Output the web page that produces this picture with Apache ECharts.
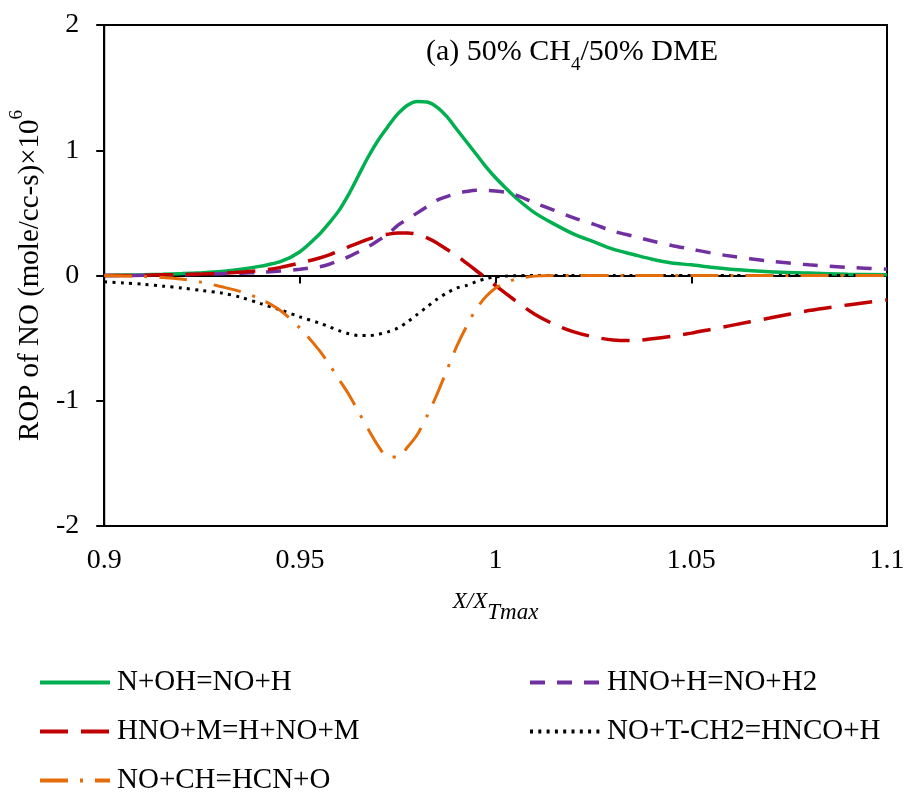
<!DOCTYPE html>
<html>
<head>
<meta charset="utf-8">
<script src="https://cdn.jsdelivr.net/npm/echarts@6/dist/echarts.min.js"></script>
<style>html,body{margin:0;padding:0;background:#fff;}#c{width:908px;height:798px;}</style>
</head>
<body>
<div id="c"></div>
<script>
// X/XTmax sample positions
var xs = [0.9, 0.905, 0.91, 0.915, 0.92, 0.925, 0.93, 0.935, 0.94, 0.945, 0.95, 0.955,
  0.9575, 0.96, 0.9625, 0.965, 0.9675, 0.97, 0.9725, 0.975, 0.9775, 0.98, 0.9825, 0.985, 0.9875, 0.99, 0.9925, 0.995, 0.9975, 1.0, 1.0025, 1.005,
  1.01, 1.015, 1.02, 1.025, 1.03, 1.035, 1.04, 1.045, 1.05, 1.055, 1.06,
  1.07, 1.08, 1.09, 1.1];
var names = ['N+OH=NO+H', 'HNO+H=NO+H2', 'HNO+M=H+NO+M', 'NO+T-CH2=HNCO+H', 'NO+CH=HCN+O'];
var nOH = [0, 0.003, 0.006, 0.01, 0.015, 0.022, 0.032, 0.05, 0.075, 0.11, 0.19, 0.33,
  0.42, 0.52, 0.65, 0.80, 0.95, 1.08, 1.19, 1.29, 1.36, 1.39, 1.385, 1.345, 1.27, 1.17, 1.07, 0.97, 0.87, 0.78, 0.70, 0.625,
  0.50, 0.41, 0.33, 0.27, 0.21, 0.17, 0.13, 0.10, 0.085, 0.065, 0.05,
  0.03, 0.02, 0.01, 0.005];
var hnoH = [0, 0, 0.002, 0.004, 0.006, 0.01, 0.014, 0.018, 0.025, 0.035, 0.05, 0.07,
  0.09, 0.12, 0.15, 0.19, 0.23, 0.28, 0.33, 0.40, 0.45, 0.50, 0.55, 0.60, 0.63, 0.655, 0.67, 0.68, 0.68, 0.675, 0.665, 0.645,
  0.58, 0.52, 0.46, 0.41, 0.355, 0.315, 0.275, 0.24, 0.21, 0.18, 0.155,
  0.115, 0.085, 0.065, 0.05];
var hnoM = [0, 0, 0.002, 0.005, 0.008, 0.012, 0.018, 0.028, 0.04, 0.065, 0.10, 0.14,
  0.165, 0.195, 0.23, 0.26, 0.29, 0.315, 0.33, 0.34, 0.34, 0.33, 0.30, 0.26, 0.21, 0.16, 0.10, 0.04, -0.02, -0.08, -0.14, -0.20,
  -0.31, -0.39, -0.45, -0.49, -0.515, -0.52, -0.505, -0.485, -0.46, -0.43, -0.40,
  -0.34, -0.28, -0.235, -0.195];
var noCH2 = [-0.05, -0.06, -0.07, -0.085, -0.10, -0.12, -0.14, -0.175, -0.225, -0.275, -0.33, -0.38,
  -0.41, -0.44, -0.465, -0.48, -0.48, -0.47, -0.45, -0.42, -0.37, -0.31, -0.25, -0.19, -0.14, -0.10, -0.08, -0.05, -0.025, -0.01, -0.005, -0.002,
  0, 0, 0, 0, 0, 0, 0, 0, 0, 0, 0,
  0, 0, 0, 0];
var noCH = [0, -0.003, -0.008, -0.015, -0.03, -0.055, -0.09, -0.13, -0.19, -0.28, -0.42, -0.60,
  -0.71, -0.83, -0.95, -1.09, -1.23, -1.36, -1.45, -1.45, -1.37, -1.27, -1.12, -0.95, -0.76, -0.57, -0.41, -0.27, -0.17, -0.10, -0.06, -0.03,
  -0.005, 0, 0, 0, 0, 0, 0, 0, 0, 0, 0,
  0, 0, 0, 0];
var xTicks = [0.9, 1.1, 0.05];
var yTicks = [-2, 2, 1];

var FONT = '"Liberation Serif", "Times New Roman", serif';
function pairs(v) { return xs.map(function (x, i) { return [x, v[i]]; }); }
function mk(name, vals, color, type, width) {
  return {
    name: name, type: 'line', data: pairs(vals), showSymbol: false, symbol: 'none',
    smooth: 0.3, animation: false,
    itemStyle: { color: color },
    lineStyle: { color: color, width: width, type: type, cap: 'butt' }
  };
}
var chart = echarts.init(document.getElementById('c'), null, { renderer: 'canvas' });
var legendBase = {
  orient: 'vertical', itemWidth: 70, itemHeight: 14, itemGap: 20, padding: 0,
  selectedMode: false,
  itemStyle: { opacity: 0 },
  lineStyle: { width: 4 },
  textStyle: { fontFamily: FONT, fontSize: 29, color: '#000', padding: [0, 0, 0, 2] }
};
chart.setOption({
  animation: false,
  backgroundColor: '#fff',
  title: {
    text: '{m|(a) 50% CH}{s|4}{m|/50% DME}',
    left: 421, top: 32,
    textStyle: {
      fontWeight: 'normal',
      rich: {
        m: { fontFamily: FONT, fontSize: 30, fontWeight: 'normal', color: '#000', lineHeight: 38, verticalAlign: 'top' },
        s: { fontFamily: FONT, fontSize: 19, fontWeight: 'normal', color: '#000', lineHeight: 38, verticalAlign: 'bottom' }
      }
    }
  },
  grid: { left: 100, right: 21, top: 25, bottom: 272, show: true, borderColor: '#000', borderWidth: 2 },
  legend: [
    Object.assign({}, legendBase, { left: 38, top: 668, data: [names[0], names[2], names[4]] }),
    Object.assign({}, legendBase, { left: 528, top: 668, data: [names[1], names[3]] })
  ],
  xAxis: {
    type: 'value', min: xTicks[0], max: xTicks[1], interval: xTicks[2],
    axisLine: { lineStyle: { color: '#000', width: 2 } },
    axisTick: { show: true, length: 8, lineStyle: { color: '#000', width: 2 } },
    splitLine: { show: false },
    axisLabel: { fontFamily: FONT, fontSize: 28, color: '#000', margin: 21 },
    name: '{m|X/X}{s|Tmax}', nameLocation: 'middle', nameGap: 64,
    nameTextStyle: {
      rich: {
        m: { fontFamily: FONT, fontStyle: 'italic', fontSize: 23, color: '#000', lineHeight: 34, verticalAlign: 'top' },
        s: { fontFamily: FONT, fontStyle: 'italic', fontSize: 23, color: '#000', lineHeight: 34, verticalAlign: 'bottom' }
      }
    }
  },
  yAxis: {
    type: 'value', min: yTicks[0], max: yTicks[1], interval: yTicks[2],
    axisLine: { show: true, lineStyle: { color: '#000', width: 2 } },
    axisTick: { show: true, length: 8, lineStyle: { color: '#000', width: 2 } },
    splitLine: { show: false },
    axisLabel: { fontFamily: FONT, fontSize: 28, color: '#000', margin: 25 },
    name: '{m|ROP of NO (mole/cc-s)×10}{p|6}', nameLocation: 'middle', nameGap: 45,
    nameTextStyle: {
      rich: {
        m: { fontFamily: FONT, fontSize: 29, color: '#000', lineHeight: 37, verticalAlign: 'bottom' },
        p: { fontFamily: FONT, fontSize: 19, color: '#000', lineHeight: 37, verticalAlign: 'top' }
      }
    }
  },
  series: [
    mk(names[0], nOH, '#00B050', 'solid', 3.5),
    mk(names[1], hnoH, '#7030A0', [15, 12], 3.5),
    mk(names[2], hnoM, '#C00000', [28, 13], 3.5),
    mk(names[3], noCH2, '#000000', [3, 5.3], 3),
    mk(names[4], noCH, '#E46C0A', [28, 12, 3, 12], 3)
  ]
});
</script>
</body>
</html>
